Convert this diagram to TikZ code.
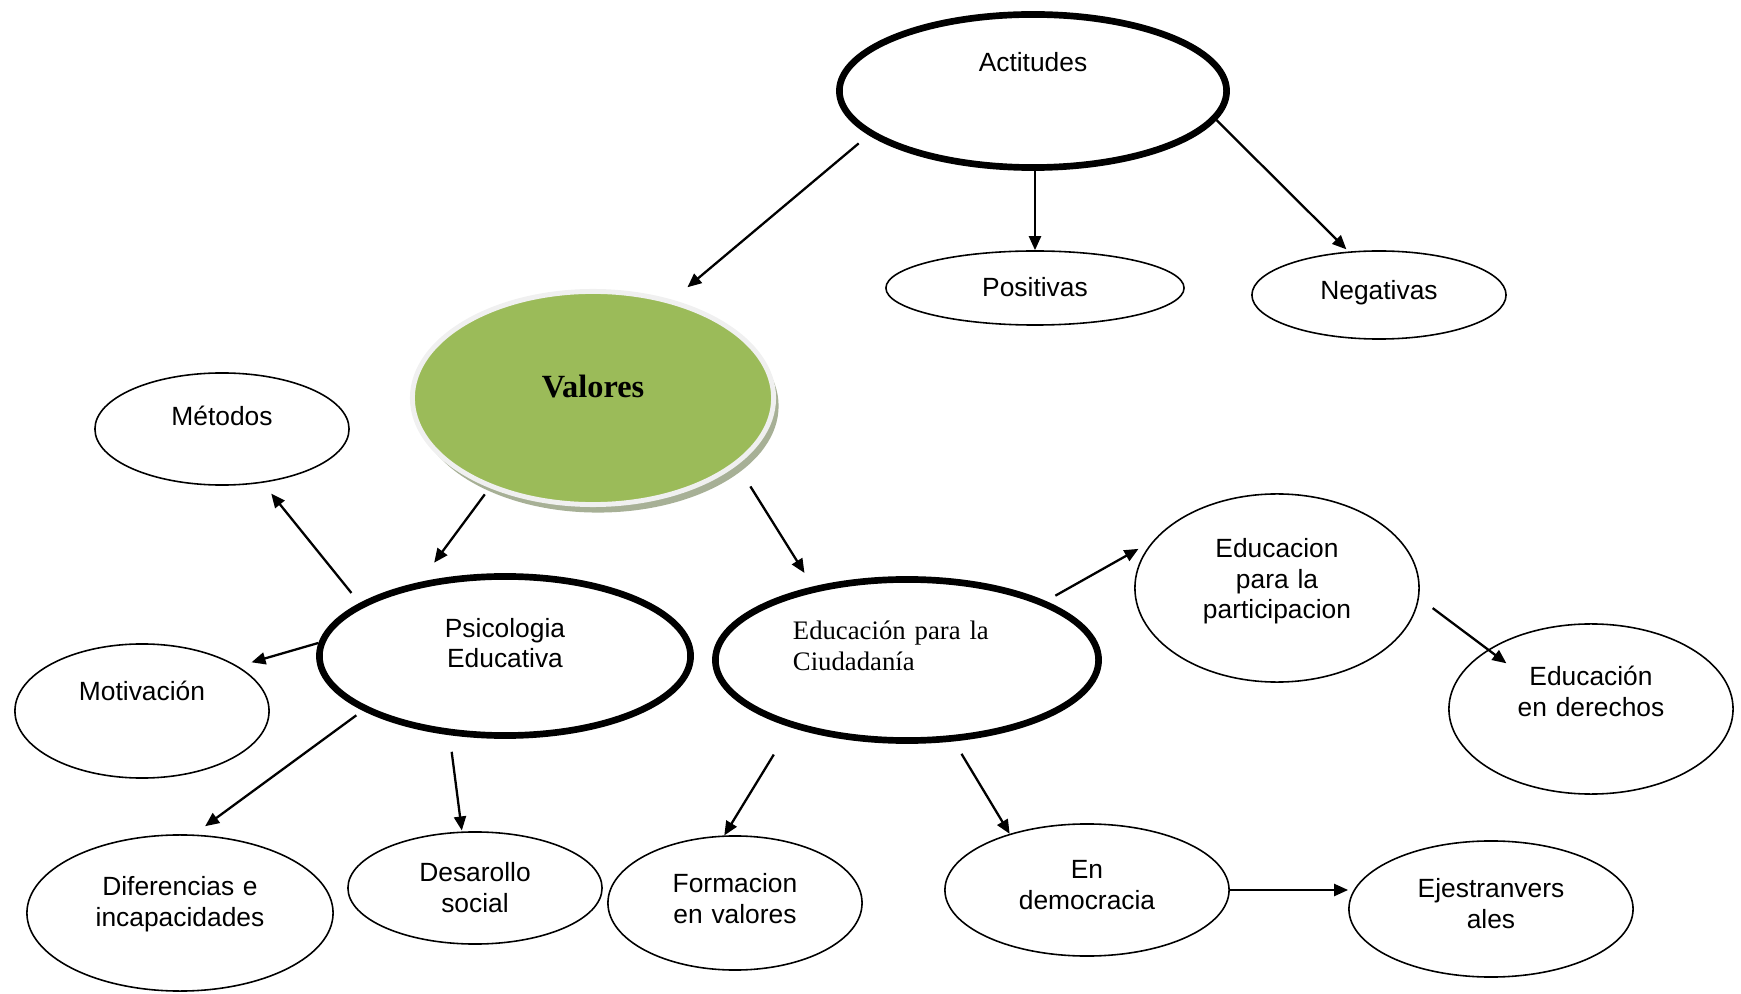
\documentclass[tikz,border=0pt]{standalone}
\usepackage{fontspec}
\setmainfont{Liberation Serif}
\setsansfont{Liberation Sans}
\usepackage{tikz}
\usetikzlibrary{shapes.geometric,arrows.meta,shadows}
\definecolor{valgreen}{HTML}{9BBB59}
\definecolor{valrim}{HTML}{F0F0F0}
\definecolor{valshade}{HTML}{A7B096}

\begin{document}
\begin{tikzpicture}[x=0.01cm,y=-0.01cm,
  ell/.style={ellipse,draw,line width=0.45pt,inner sep=0pt,text height=6pt,
    font=\sffamily\fontsize{7.5pt}{8.8pt}\selectfont},
  thk/.style={ell,line width=1.9pt},
  two/.style={text width=1.75cm,align=center},
  arr/.style={-{Triangle[length=0.14cm,width=0.12cm]},line width=0.65pt}]
  \useasboundingbox (0,0) rectangle (1741,994);
  \node[thk,minimum width=3.87cm,minimum height=1.53cm,text depth=17pt] (act) at (1033,91) {Actitudes};
  \node[ell,minimum width=2.98cm,minimum height=0.74cm,text depth=1pt] (pos) at (1035,288) {Positivas};
  \node[ell,minimum width=2.54cm,minimum height=0.88cm,text depth=3.6pt] (neg) at (1379,295) {Negativas};
  \node[ellipse,draw=valrim,line width=1.4pt,fill=valgreen,inner sep=0pt,
    drop shadow={shadow xshift=0.05cm,shadow yshift=-0.08cm,fill=valshade,opacity=1},
    minimum width=3.61cm,minimum height=2.13cm,text height=6pt,text depth=6.4pt,
    font=\rmfamily\bfseries\fontsize{9.2pt}{11pt}\selectfont] (val) at (593,398) {Valores};
  \node[ell,minimum width=2.54cm,minimum height=1.12cm,text depth=8pt] (met) at (222,429) {Métodos};
  \node[thk,two,minimum width=3.71cm,minimum height=1.59cm,text depth=16.8pt] (psi) at (505,656) {Psicologia\\Educativa};
  \node[thk,text width=2.28cm,align=left,minimum width=3.83cm,minimum height=1.61cm,text depth=17.8pt,
    font=\rmfamily\fontsize{7.6pt}{8.8pt}\selectfont] (ciu) at (907,660) {Educación para la\\Ciudadanía};
  \node[ell,minimum width=2.54cm,minimum height=1.34cm,text depth=11.8pt] (mot) at (142,711) {Motivación};
  \node[ell,two,minimum width=2.84cm,minimum height=1.88cm,text depth=23.6pt] (par) at (1277,588) {Educacion\\para la\\participacion};
  \node[ell,two,minimum width=2.84cm,minimum height=1.70cm,text depth=19.4pt] (der) at (1591,709) {Educación\\en derechos};
  \node[ell,two,minimum width=3.06cm,minimum height=1.56cm,text depth=16.2pt] (dif) at (180,913) {Diferencias e\\incapacidades};
  \node[ell,two,minimum width=2.54cm,minimum height=1.12cm,text depth=9.5pt] (des) at (475,888) {Desarollo\\social};
  \node[ell,two,minimum width=2.54cm,minimum height=1.34cm,text depth=11.8pt] (for) at (735,903) {Formacion\\en valores};
  \node[ell,two,minimum width=2.84cm,minimum height=1.32cm,text depth=12.4pt] (dem) at (1087,890) {En\\democracia};
  \node[ell,two,minimum width=2.84cm,minimum height=1.36cm,text depth=12.4pt] (eje) at (1491,909) {Ejestranvers\\ales};
  \draw[arr,shorten <=0.13cm,shorten >=0.195cm] (act.195.3) -- (val.51.3);
  \draw[arr] (pos.north |- act.south) -- (pos.north);
  \draw[arr,shorten >=0.03cm] (act.351) -- (neg.125);
  \draw[arr,shorten <=0.08cm,shorten >=0.24cm] (val.221.3) -- (psi.139);
  \draw[arr,shorten <=0.25cm,shorten >=0.16cm] (val.335.5) -- (ciu.142);
  \draw[arr,shorten <=0.13cm,shorten >=0.137cm] (psi.160.7) -- (met.307.4);
  \draw[arr,shorten >=0.14cm] (psi.176) -- (mot.25.8);
  \draw[arr,shorten <=0.08cm,shorten >=0.14cm] (psi.201.5) -- (dif.80.8);
  \draw[arr,shorten <=0.167cm,shorten >=0.01cm] (psi.235.2) -- (des.103);
  \draw[arr,shorten <=0.11cm,shorten >=0.17cm] (ciu.23.7) -- (par.159.1);
  \draw[arr,shorten <=0.17cm,shorten >=-0.23cm] (par.356) -- (der.150.1);
  \draw[arr,shorten <=0.32cm] (ciu.210.6) -- (for.99.3);
  \draw[arr,shorten <=0.145cm] (ciu.300.3) -- (dem.144);
  \draw[arr] (dem.east) -- (eje.west |- dem.east);
\end{tikzpicture}
\end{document}
